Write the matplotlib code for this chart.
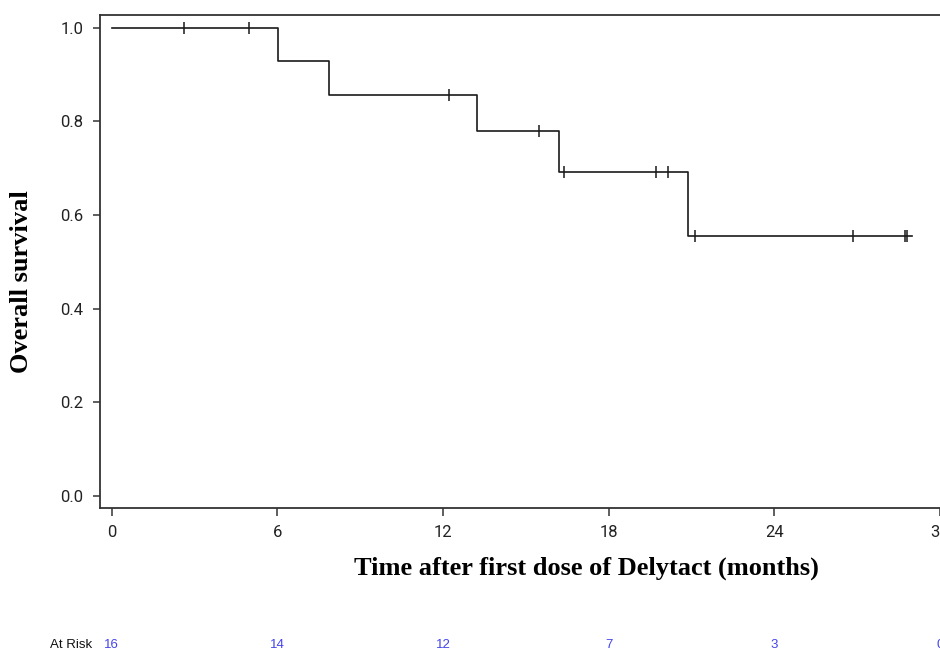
import numpy as np
import matplotlib
matplotlib.use("Agg")
import matplotlib.pyplot as plt
from matplotlib.transforms import blended_transform_factory

# ---- data ----
event_times = [0.0, 6.02, 7.85, 13.24, 16.18, 20.87]
surv_values = [1.0, 0.9286, 0.8571, 0.7792, 0.6926, 0.5541]
end_time = 28.99
censor_times = [2.61, 4.97, 12.2, 15.47, 16.39, 19.71, 20.15, 21.12, 26.84, 28.72, 28.80]
risk_times = [0, 6, 12, 18, 24, 30]
risk_counts = [16, 14, 12, 7, 3, 0]
x_ticks = [0, 6, 12, 18, 24, 30]
y_ticks = [0.0, 0.2, 0.4, 0.6, 0.8, 1.0]

W, H = 940, 650
fig = plt.figure(figsize=(W / 100, H / 100), dpi=100)
left, right, top, bottom = 100, 940, 15, 508
ax = fig.add_axes([left / W, 1 - bottom / H, (right - left) / W, (bottom - top) / H])

line_col = "#1a1a1a"
xs = list(event_times) + [end_time]
ys = list(surv_values) + [surv_values[-1]]
ax.step(xs, ys, where="post", color=line_col, lw=1.2)

ct = np.array(censor_times)
idx = np.searchsorted(np.array(event_times), ct, side="right") - 1
cy = np.array(surv_values)[idx]
ax.plot(ct, cy, linestyle="none", marker="|", markersize=8, markeredgewidth=1.1, color=line_col)

ax.set_xlim(-0.43, 30.0)
ax.set_ylim(-0.0256, 1.027)
ax.set_xticks(x_ticks)
ax.set_yticks(y_ticks)
ax.set_yticklabels([f"{v:.1f}" for v in y_ticks])

tick_font = ["Roboto", "DejaVu Sans"]
for lab in ax.get_xticklabels() + ax.get_yticklabels():
    lab.set_family(tick_font)
    lab.set_fontsize(12)
    lab.set_color("#222222")

ax.tick_params(axis="y", length=5, width=1.1, pad=7, color="#333333")
ax.tick_params(axis="x", length=6, width=1.1, pad=6, color="#333333")
for s in ["left", "bottom", "top"]:
    ax.spines[s].set_linewidth(1.3)
    ax.spines[s].set_color("#333333")
ax.spines["right"].set_visible(False)

fig.text(586 / W, 1 - 568 / H, "Time after first dose of Delytact (months)",
         ha="center", va="center", fontsize=19, fontweight="bold",
         family="Liberation Serif")
fig.text(22 / W, 1 - 282 / H, "Overall survival", rotation=90,
         ha="center", va="center", fontsize=19, fontweight="bold",
         family="Liberation Serif")

trans = blended_transform_factory(ax.transData, fig.transFigure)
fig.text(92 / W, 1 - 645 / H, "At Risk", ha="right", va="center",
         fontsize=9.5, family="Liberation Sans", color="#111111")
for t, n in zip(risk_times, risk_counts):
    ax.text(t, 1 - 645 / H, str(n), transform=trans, ha="center", va="center",
            fontsize=9.5, family="Liberation Sans", color="#4444ee", clip_on=False)

fig.savefig("out.png", dpi=100)
